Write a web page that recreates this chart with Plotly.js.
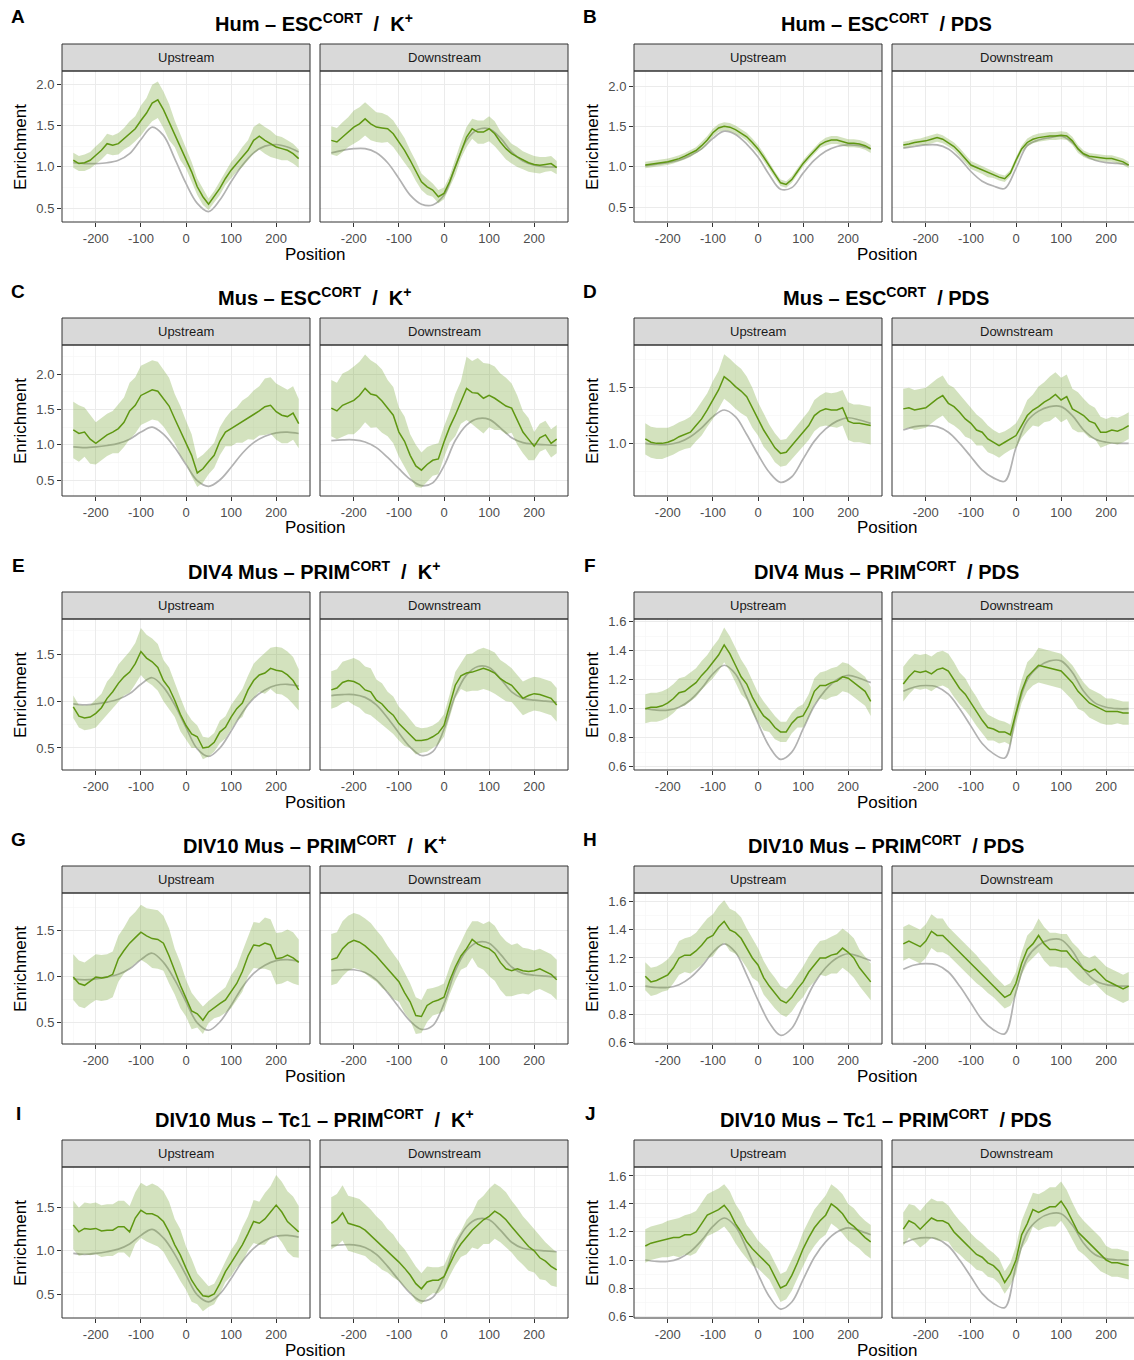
<!DOCTYPE html>
<html><head><meta charset="utf-8">
<script src="https://cdn.plot.ly/plotly-3.0.1.min.js"></script>
<style>html,body{margin:0;padding:0;background:#fff}#chart{width:1134px;height:1360px}</style>
</head><body><div id="chart"></div>
<script>
// ---------- positions ----------
const POS41 = [-250,-237.5,-225,-212.5,-200,-187.5,-175,-162.5,-150,-137.5,-125,-112.5,-100,-87.5,-75,-62.5,-50,-37.5,-25,-12.5,0,12.5,25,37.5,50,62.5,75,87.5,100,112.5,125,137.5,150,162.5,175,187.5,200,212.5,225,237.5,250];
const POS21 = [-250,-225,-200,-175,-150,-125,-100,-75,-50,-25,0,25,50,75,100,125,150,175,200,225,250];
const X_TICKS = [-200,-100,0,100,200];
const X_TICKTEXT = ['-200','-100','0','100','200'];
const X_MINOR = [-250,-150,-50,50,150,250];

// ---------- A: Hum - ESC / K+ ----------
const A_up_green = [1.08,1.04,1.05,1.08,1.14,1.20,1.28,1.26,1.28,1.34,1.40,1.46,1.56,1.65,1.77,1.81,1.69,1.54,1.40,1.24,1.10,0.94,0.76,0.64,0.55,0.64,0.74,0.86,0.96,1.04,1.12,1.20,1.32,1.37,1.32,1.28,1.24,1.22,1.20,1.16,1.10];
const A_up_band = [0.09,0.10,0.11,0.12,0.13,0.15,0.18,0.22,0.22,0.16,0.12,0.10,0.07,0.08,0.10,0.12,0.16,0.16,0.14,0.12,0.11];
const A_up_grey = [1.05,1.04,1.04,1.05,1.08,1.16,1.33,1.48,1.38,1.10,0.80,0.56,0.46,0.60,0.82,1.02,1.17,1.25,1.27,1.24,1.18];
const A_down_green = [1.32,1.30,1.36,1.42,1.48,1.52,1.58,1.52,1.48,1.47,1.46,1.40,1.30,1.20,1.08,0.95,0.82,0.76,0.72,0.64,0.68,0.82,1.00,1.20,1.36,1.46,1.42,1.42,1.46,1.40,1.30,1.22,1.16,1.12,1.08,1.05,1.03,1.02,1.03,1.04,0.99];
const A_down_band = [0.17,0.18,0.20,0.20,0.18,0.16,0.15,0.12,0.10,0.08,0.07,0.10,0.12,0.14,0.15,0.13,0.12,0.11,0.10,0.09,0.08];
const A_down_grey = [1.17,1.20,1.22,1.22,1.17,1.05,0.86,0.66,0.55,0.54,0.66,1.00,1.32,1.45,1.46,1.35,1.18,1.07,1.02,1.00,1.00];

// ---------- B: Hum - ESC / PDS ----------
const B_up_green = [1.02,1.03,1.04,1.05,1.06,1.08,1.10,1.13,1.16,1.20,1.26,1.33,1.42,1.48,1.50,1.49,1.46,1.42,1.37,1.30,1.22,1.12,1.01,0.90,0.80,0.78,0.84,0.94,1.04,1.12,1.20,1.27,1.31,1.33,1.33,1.31,1.29,1.29,1.28,1.26,1.22];
const B_up_band = [0.04,0.04,0.04,0.04,0.04,0.05,0.05,0.05,0.05,0.05,0.05,0.04,0.04,0.04,0.04,0.04,0.05,0.05,0.05,0.05,0.05];
const B_up_grey = [1.01,1.03,1.05,1.08,1.14,1.22,1.35,1.44,1.40,1.28,1.12,0.90,0.72,0.74,0.92,1.08,1.19,1.25,1.27,1.26,1.22];
const B_down_green = [1.27,1.28,1.30,1.31,1.32,1.34,1.36,1.34,1.30,1.25,1.18,1.10,1.02,0.99,0.96,0.92,0.90,0.87,0.85,0.92,1.08,1.22,1.30,1.34,1.36,1.37,1.38,1.38,1.39,1.38,1.32,1.22,1.16,1.13,1.12,1.11,1.10,1.10,1.08,1.06,1.02];
const B_down_band = [0.04,0.04,0.05,0.05,0.05,0.05,0.05,0.05,0.04,0.04,0.04,0.05,0.05,0.05,0.05,0.05,0.04,0.04,0.04,0.04,0.04];
const B_down_grey = [1.23,1.25,1.27,1.27,1.22,1.10,0.94,0.82,0.76,0.73,0.98,1.26,1.33,1.36,1.38,1.30,1.15,1.08,1.05,1.04,1.02];

// ---------- shared mouse control (grey) profiles ----------
const musK_up_grey = [0.97,0.96,0.97,0.99,1.02,1.08,1.18,1.25,1.15,0.96,0.72,0.49,0.41,0.50,0.68,0.88,1.03,1.12,1.17,1.18,1.16];
const musK_down_grey = [1.06,1.07,1.07,1.04,0.96,0.82,0.66,0.51,0.42,0.46,0.70,1.06,1.28,1.37,1.36,1.24,1.10,1.03,1.01,1.00,0.99];
const musPDS_up_grey = [1.00,0.99,0.99,1.01,1.06,1.14,1.24,1.30,1.24,1.08,0.90,0.74,0.65,0.70,0.86,1.02,1.13,1.20,1.23,1.21,1.18];
const musPDS_down_grey = [1.12,1.15,1.16,1.15,1.10,1.00,0.88,0.76,0.69,0.66,0.96,1.20,1.29,1.33,1.33,1.25,1.12,1.04,1.01,1.00,1.00];

// ---------- C: Mus - ESC / K+ ----------
const C_up_green = [1.21,1.16,1.18,1.08,1.02,1.08,1.14,1.18,1.23,1.32,1.48,1.56,1.70,1.74,1.78,1.76,1.66,1.55,1.37,1.20,1.04,0.85,0.60,0.66,0.76,0.85,1.05,1.18,1.23,1.28,1.33,1.38,1.42,1.48,1.54,1.56,1.47,1.42,1.40,1.45,1.30];
const C_up_band = [0.40,0.35,0.30,0.30,0.35,0.40,0.42,0.42,0.40,0.35,0.30,0.20,0.18,0.20,0.25,0.30,0.35,0.40,0.40,0.38,0.35];
const C_down_green = [1.52,1.48,1.56,1.60,1.63,1.70,1.80,1.72,1.70,1.62,1.52,1.42,1.18,1.05,0.85,0.70,0.64,0.72,0.78,0.80,1.04,1.25,1.42,1.60,1.80,1.74,1.73,1.66,1.70,1.66,1.61,1.55,1.52,1.35,1.18,1.08,0.98,1.10,1.14,1.02,1.08];
const C_down_band = [0.40,0.45,0.48,0.48,0.45,0.40,0.35,0.30,0.25,0.22,0.22,0.30,0.45,0.50,0.45,0.40,0.35,0.30,0.20,0.20,0.20];

// ---------- D: Mus - ESC / PDS ----------
const D_up_green = [1.04,1.01,1.00,1.00,1.01,1.03,1.06,1.08,1.10,1.16,1.22,1.30,1.39,1.48,1.60,1.56,1.51,1.47,1.42,1.32,1.22,1.12,1.04,0.96,0.91,0.92,0.98,1.04,1.10,1.16,1.25,1.29,1.31,1.30,1.30,1.32,1.20,1.18,1.18,1.17,1.16];
const D_up_band = [0.14,0.14,0.13,0.13,0.14,0.15,0.17,0.20,0.20,0.18,0.15,0.13,0.12,0.12,0.13,0.14,0.15,0.16,0.17,0.17,0.17];
const D_down_green = [1.31,1.32,1.30,1.31,1.32,1.36,1.40,1.43,1.36,1.33,1.28,1.22,1.18,1.12,1.10,1.04,1.01,0.98,1.01,1.04,1.07,1.16,1.25,1.30,1.33,1.37,1.40,1.44,1.39,1.42,1.31,1.28,1.25,1.20,1.18,1.10,1.10,1.12,1.11,1.13,1.16];
const D_down_band = [0.18,0.18,0.18,0.18,0.17,0.16,0.14,0.12,0.11,0.10,0.11,0.14,0.18,0.20,0.20,0.18,0.15,0.14,0.12,0.12,0.12];

// ---------- E: DIV4 Mus - PRIM / K+ ----------
const E_up_green = [0.94,0.84,0.82,0.83,0.87,0.93,1.03,1.10,1.19,1.26,1.31,1.40,1.53,1.46,1.42,1.36,1.22,1.14,1.01,0.86,0.74,0.65,0.62,0.50,0.51,0.56,0.67,0.72,0.83,0.92,0.98,1.12,1.22,1.28,1.30,1.35,1.33,1.32,1.28,1.22,1.12];
const E_up_band = [0.12,0.13,0.15,0.18,0.20,0.22,0.25,0.25,0.22,0.18,0.15,0.12,0.10,0.12,0.13,0.15,0.18,0.22,0.25,0.25,0.22];
const E_down_green = [1.12,1.14,1.20,1.22,1.21,1.18,1.12,1.10,1.01,0.97,0.90,0.85,0.76,0.70,0.65,0.58,0.58,0.59,0.62,0.66,0.74,0.95,1.17,1.27,1.30,1.31,1.33,1.35,1.33,1.30,1.24,1.20,1.17,1.10,1.03,1.06,1.08,1.07,1.05,1.03,0.96];
const E_down_band = [0.20,0.22,0.25,0.25,0.22,0.20,0.18,0.15,0.13,0.12,0.12,0.14,0.20,0.22,0.22,0.20,0.18,0.18,0.18,0.18,0.18];

// ---------- F: DIV4 Mus - PRIM / PDS ----------
const F_up_green = [1.00,1.01,1.01,1.02,1.04,1.07,1.11,1.12,1.15,1.18,1.23,1.27,1.32,1.37,1.44,1.38,1.30,1.22,1.17,1.08,1.01,0.95,0.92,0.87,0.84,0.84,0.90,0.94,0.95,1.02,1.12,1.16,1.16,1.18,1.19,1.22,1.21,1.18,1.15,1.12,1.05];
const F_up_band = [0.10,0.10,0.10,0.10,0.10,0.10,0.11,0.12,0.12,0.11,0.10,0.08,0.07,0.07,0.08,0.09,0.10,0.10,0.10,0.10,0.10];
const F_down_green = [1.17,1.22,1.26,1.25,1.26,1.24,1.27,1.28,1.26,1.20,1.14,1.10,1.04,0.98,0.92,0.87,0.86,0.84,0.84,0.82,0.98,1.12,1.22,1.26,1.30,1.29,1.28,1.27,1.26,1.22,1.18,1.12,1.08,1.04,1.02,1.00,0.98,0.98,0.98,0.97,0.97];
const F_down_band = [0.12,0.12,0.12,0.12,0.12,0.11,0.10,0.09,0.08,0.07,0.08,0.10,0.12,0.12,0.12,0.12,0.10,0.10,0.09,0.08,0.08];

// ---------- G: DIV10 Mus - PRIM / K+ ----------
const G_up_green = [0.99,0.92,0.90,0.95,0.99,0.98,0.99,1.02,1.19,1.28,1.36,1.42,1.48,1.44,1.41,1.40,1.36,1.22,1.05,0.90,0.76,0.62,0.59,0.52,0.61,0.66,0.70,0.74,0.83,0.92,1.05,1.22,1.34,1.33,1.36,1.34,1.19,1.20,1.23,1.20,1.15];
const G_up_band = [0.25,0.25,0.25,0.25,0.25,0.28,0.30,0.32,0.30,0.25,0.20,0.15,0.12,0.14,0.18,0.22,0.25,0.28,0.28,0.28,0.25];
const G_down_green = [1.18,1.20,1.30,1.36,1.39,1.37,1.33,1.28,1.22,1.15,1.08,1.00,0.94,0.82,0.72,0.57,0.56,0.68,0.72,0.74,0.77,0.95,1.10,1.22,1.30,1.40,1.35,1.32,1.30,1.25,1.15,1.08,1.06,1.08,1.06,1.05,1.06,1.08,1.05,1.02,0.96];
const G_down_band = [0.28,0.30,0.30,0.30,0.28,0.25,0.22,0.20,0.18,0.15,0.15,0.15,0.20,0.25,0.30,0.30,0.28,0.25,0.22,0.22,0.22];

// ---------- H: DIV10 Mus - PRIM / PDS ----------
const H_up_green = [1.07,1.03,1.04,1.06,1.08,1.13,1.20,1.22,1.22,1.25,1.29,1.34,1.36,1.42,1.46,1.40,1.38,1.34,1.27,1.20,1.15,1.06,1.00,0.95,0.90,0.88,0.92,0.98,1.03,1.10,1.15,1.20,1.20,1.22,1.23,1.27,1.24,1.20,1.13,1.08,1.03];
const H_up_band = [0.10,0.10,0.11,0.12,0.13,0.14,0.15,0.15,0.15,0.14,0.12,0.11,0.10,0.10,0.11,0.12,0.13,0.14,0.14,0.13,0.13];
const H_down_green = [1.30,1.32,1.30,1.28,1.32,1.39,1.36,1.36,1.32,1.28,1.24,1.20,1.16,1.12,1.08,1.04,1.00,0.96,0.92,0.94,1.02,1.16,1.26,1.30,1.36,1.30,1.26,1.26,1.25,1.25,1.20,1.16,1.12,1.10,1.12,1.08,1.04,1.02,1.00,0.98,1.00];
const H_down_band = [0.12,0.12,0.12,0.12,0.10,0.10,0.10,0.09,0.08,0.08,0.08,0.10,0.12,0.12,0.12,0.11,0.10,0.10,0.10,0.10,0.10];

// ---------- I: DIV10 Mus - Tc1 - PRIM / K+ ----------
const I_up_green = [1.30,1.22,1.26,1.25,1.26,1.23,1.24,1.24,1.28,1.28,1.22,1.38,1.47,1.43,1.43,1.40,1.34,1.22,1.07,0.95,0.80,0.66,0.56,0.48,0.47,0.50,0.62,0.76,0.86,0.96,1.07,1.20,1.34,1.32,1.37,1.45,1.53,1.45,1.34,1.28,1.22];
const I_up_band = [0.28,0.30,0.30,0.30,0.30,0.30,0.32,0.35,0.35,0.30,0.25,0.18,0.12,0.12,0.15,0.20,0.25,0.30,0.35,0.35,0.30];
const I_down_green = [1.32,1.36,1.44,1.32,1.30,1.28,1.24,1.18,1.12,1.06,1.00,0.94,0.87,0.80,0.72,0.62,0.56,0.64,0.66,0.66,0.70,0.84,0.98,1.08,1.16,1.24,1.30,1.36,1.40,1.46,1.42,1.36,1.28,1.20,1.12,1.05,1.00,0.92,0.88,0.82,0.78];
const I_down_band = [0.30,0.32,0.32,0.30,0.28,0.25,0.22,0.20,0.18,0.15,0.13,0.15,0.20,0.28,0.32,0.32,0.30,0.28,0.25,0.22,0.20];

// ---------- J: DIV10 Mus - Tc1 - PRIM / PDS ----------
const J_up_green = [1.10,1.12,1.13,1.14,1.15,1.16,1.16,1.18,1.18,1.20,1.26,1.32,1.34,1.36,1.39,1.34,1.26,1.20,1.13,1.08,1.04,1.00,0.96,0.88,0.80,0.82,0.89,0.98,1.08,1.16,1.23,1.28,1.32,1.40,1.37,1.33,1.27,1.24,1.20,1.16,1.13];
const J_up_band = [0.12,0.12,0.13,0.14,0.15,0.15,0.15,0.15,0.14,0.12,0.10,0.10,0.10,0.11,0.12,0.13,0.14,0.14,0.13,0.12,0.12];
const J_down_green = [1.22,1.28,1.26,1.22,1.26,1.30,1.28,1.28,1.26,1.20,1.16,1.12,1.08,1.04,1.02,0.98,0.96,0.92,0.84,0.90,1.00,1.18,1.26,1.36,1.34,1.36,1.38,1.38,1.42,1.36,1.28,1.20,1.16,1.12,1.08,1.04,1.00,0.98,0.98,0.97,0.96];
const J_down_band = [0.12,0.13,0.14,0.14,0.13,0.12,0.11,0.10,0.09,0.08,0.10,0.12,0.13,0.14,0.14,0.13,0.12,0.12,0.10,0.10,0.10];

// ---------- y-axis ticks ----------
const Y_T_05 = [0.5,1.0,1.5,2.0];
const Y_M_05 = [0.75,1.25,1.75,2.25];
const Y_T_D = [1.0,1.5];
const Y_T_E = [0.5,1.0,1.5];
const Y_T_02 = [0.6,0.8,1.0,1.2,1.4,1.6];
const Y_M_02 = [0.7,0.9,1.1,1.3,1.5];

const NB = '\u00A0';
const K_SUFFIX = '<sup>CORT</sup>' + NB+NB + '/' + NB+NB + 'K<sup>+</sup>';
const P_SUFFIX = '<sup>CORT</sup>' + NB+NB + '/' + NB + 'PDS';

const panels = [
  {letter:'A', row:0, col:0, title:'<b>Hum – ESC'+K_SUFFIX+'</b>', up:[A_up_green,A_up_band,A_up_grey], down:[A_down_green,A_down_band,A_down_grey], yr:[0.335,2.157], yt:Y_T_05, ym:Y_M_05},
  {letter:'B', row:0, col:1, title:'<b>Hum – ESC'+P_SUFFIX+'</b>', up:[B_up_green,B_up_band,B_up_grey], down:[B_down_green,B_down_band,B_down_grey], yr:[0.314,2.186], yt:Y_T_05, ym:Y_M_05},
  {letter:'C', row:1, col:0, title:'<b>Mus – ESC'+K_SUFFIX+'</b>', up:[C_up_green,C_up_band,musK_up_grey], down:[C_down_green,C_down_band,musK_down_grey], yr:[0.273,2.416], yt:Y_T_05, ym:Y_M_05},
  {letter:'D', row:1, col:1, title:'<b>Mus – ESC'+P_SUFFIX+'</b>', up:[D_up_green,D_up_band,musPDS_up_grey], down:[D_down_green,D_down_band,musPDS_down_grey], yr:[0.527,1.884], yt:Y_T_D, ym:Y_M_05},
  {letter:'E', row:2, col:0, title:'<b>DIV4 Mus – PRIM'+K_SUFFIX+'</b>', up:[E_up_green,E_up_band,musK_up_grey], down:[E_down_green,E_down_band,musK_down_grey], yr:[0.265,1.877], yt:Y_T_E, ym:Y_M_05},
  {letter:'F', row:2, col:1, title:'<b>DIV4 Mus – PRIM'+P_SUFFIX+'</b>', up:[F_up_green,F_up_band,musPDS_up_grey], down:[F_down_green,F_down_band,musPDS_down_grey], yr:[0.577,1.619], yt:Y_T_02, ym:Y_M_02},
  {letter:'G', row:3, col:0, title:'<b>DIV10 Mus – PRIM'+K_SUFFIX+'</b>', up:[G_up_green,G_up_band,musK_up_grey], down:[G_down_green,G_down_band,musK_down_grey], yr:[0.26,1.907], yt:Y_T_E, ym:Y_M_05},
  {letter:'H', row:3, col:1, title:'<b>DIV10 Mus – PRIM'+P_SUFFIX+'</b>', up:[H_up_green,H_up_band,musPDS_up_grey], down:[H_down_green,H_down_band,musPDS_down_grey], yr:[0.588,1.662], yt:Y_T_02, ym:Y_M_02},
  {letter:'I', row:4, col:0, title:'<b>DIV10 Mus – Tc</b>1<b> – PRIM'+K_SUFFIX+'</b>', up:[I_up_green,I_up_band,musK_up_grey], down:[I_down_green,I_down_band,musK_down_grey], yr:[0.222,1.972], yt:Y_T_E, ym:Y_M_05},
  {letter:'J', row:4, col:1, title:'<b>DIV10 Mus – Tc</b>1<b> – PRIM'+P_SUFFIX+'</b>', up:[J_up_green,J_up_band,musPDS_up_grey], down:[J_down_green,J_down_band,musPDS_down_grey], yr:[0.586,1.664], yt:Y_T_02, ym:Y_M_02}
];

// ---------- styling ----------
const W = 1134, H = 1360;
const FONT = '"Liberation Sans", Arial, Helvetica, sans-serif';
const GREEN = '#5f9712';
const BAND = 'rgba(118,166,52,0.32)';
const GREY = '#b2b2b2';
const BORDER = '#333333';
const GRID = '#ebebeb';
const GRID_MINOR = '#f5f5f5';
const px = v => v / W;
const py = v => 1 - v / H;

const traces = [], shapes = [], annotations = [];
const layout = {
  width: W, height: H, margin: {l:0, r:0, t:0, b:0},
  paper_bgcolor: '#ffffff', plot_bgcolor: '#ffffff', showlegend: false,
  font: {family: FONT, color: '#000'}
};

let axN = 0;
panels.forEach(p => {
  const cx = p.col * 572, ry = p.row * 274;
  const facets = [
    {name:'Upstream', x0:62, d:p.up, showY:true},
    {name:'Downstream', x0:320, d:p.down, showY:false}
  ];
  facets.forEach(f => {
    axN++;
    const s = axN === 1 ? '' : String(axN);
    const x0 = cx + f.x0, x1 = x0 + 248;
    const xEnd = Math.min(x1, W);
    const y0 = 71 + ry, y1 = 222 + ry;
    const xr = [-275, -275 + (xEnd - x0) / 248 * 550];
    layout['xaxis' + s] = {
      domain: [px(x0), px(xEnd)], range: xr, anchor: 'y' + s, fixedrange: true,
      tickmode: 'array', tickvals: X_TICKS, ticktext: X_TICKTEXT,
      ticks: 'outside', ticklen: 4, tickwidth: 1, tickcolor: BORDER,
      tickfont: {size: 13, color: '#4d4d4d', family: FONT},
      showgrid: true, gridcolor: GRID, gridwidth: 1, zeroline: false, showline: false,
      minor: {tickmode: 'array', tickvals: X_MINOR, showgrid: true, gridcolor: GRID_MINOR, gridwidth: 0.6, ticks: ''}
    };
    layout['yaxis' + s] = {
      domain: [py(y1), py(y0)], range: p.yr, anchor: 'x' + s, fixedrange: true,
      tickmode: 'array', tickvals: p.yt, ticktext: p.yt.map(v => v.toFixed(1)),
      ticks: f.showY ? 'outside' : '', ticklen: 4, tickwidth: 1, tickcolor: BORDER,
      showticklabels: f.showY,
      tickfont: {size: 13, color: '#4d4d4d', family: FONT},
      showgrid: true, gridcolor: GRID, gridwidth: 1, zeroline: false, showline: false,
      minor: {tickmode: 'array', tickvals: p.ym, showgrid: true, gridcolor: GRID_MINOR, gridwidth: 0.6, ticks: ''}
    };
    const green = f.d[0], band = f.d[1], grey = f.d[2];
    const hi = green.map((v, j) => v + band[Math.floor(j / 2)]);
    const lo = green.map((v, j) => v - band[Math.floor(j / 2)]);
    traces.push({type:'scatter', mode:'lines', x: POS21, y: grey, xaxis:'x'+s, yaxis:'y'+s,
      line:{color: GREY, width: 1.7, shape:'spline', smoothing: 1}, hoverinfo:'skip'});
    traces.push({type:'scatter', mode:'lines', x: POS41.concat(POS41.slice().reverse()),
      y: hi.concat(lo.slice().reverse()), xaxis:'x'+s, yaxis:'y'+s,
      fill:'toself', fillcolor: BAND, line:{width: 0, color:'rgba(0,0,0,0)'}, hoverinfo:'skip'});
    traces.push({type:'scatter', mode:'lines', x: POS41, y: green, xaxis:'x'+s, yaxis:'y'+s,
      line:{color: GREEN, width: 1.5}, hoverinfo:'skip'});

    // strip
    shapes.push({type:'rect', xref:'paper', yref:'paper', x0: px(x0), x1: px(x1), y0: py(y0), y1: py(44 + ry),
      fillcolor:'#d9d9d9', line:{color: BORDER, width: 1}, layer:'above'});
    // panel border
    shapes.push({type:'rect', xref:'paper', yref:'paper', x0: px(x0), x1: px(x1), y0: py(y1), y1: py(y0),
      fillcolor:'rgba(0,0,0,0)', line:{color: BORDER, width: 1}, layer:'above'});
    annotations.push({xref:'paper', yref:'paper', x: px((x0 + x1) / 2), y: py(57.5 + ry), text: f.name,
      showarrow:false, xanchor:'center', yanchor:'middle', font:{size: 13, color:'#1a1a1a', family: FONT}});
  });
  // panel letter
  annotations.push({xref:'paper', yref:'paper', x: px(cx + 18), y: py(17 + ry), text:'<b>' + p.letter + '</b>',
    showarrow:false, xanchor:'center', yanchor:'middle', font:{size: 19, color:'#000', family: FONT}});
  // title
  annotations.push({xref:'paper', yref:'paper', x: px(cx + 314), y: py(22 + ry), text: p.title,
    showarrow:false, xanchor:'center', yanchor:'middle', font:{size: 20, color:'#000', family: FONT}});
  // axis titles
  annotations.push({xref:'paper', yref:'paper', x: px(cx + 315), y: py(254 + ry), text:'Position',
    showarrow:false, xanchor:'center', yanchor:'middle', font:{size: 17, color:'#000', family: FONT}});
  annotations.push({xref:'paper', yref:'paper', x: px(cx + 20), y: py(147 + ry), text:'Enrichment', textangle: -90,
    showarrow:false, xanchor:'center', yanchor:'middle', font:{size: 17, color:'#000', family: FONT}});
});

layout.shapes = shapes;
layout.annotations = annotations;
Plotly.newPlot('chart', traces, layout, {staticPlot: true, displayModeBar: false});
</script></body></html>
